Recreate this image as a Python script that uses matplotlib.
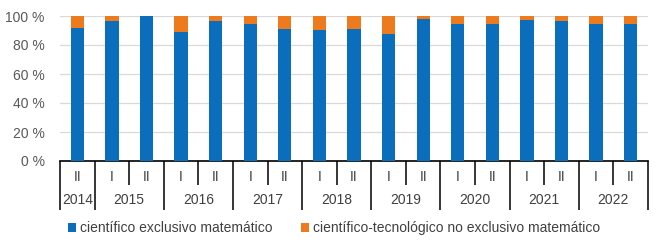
import matplotlib
matplotlib.use("Agg")
import matplotlib.pyplot as plt

# Data
years = ["2014", "2015", "2016", "2017", "2018", "2019", "2020", "2021", "2022"]
semesters = ["II", "I", "II", "I", "II", "I", "II", "I", "II",
             "I", "II", "I", "II", "I", "II", "I", "II"]
exclusivo = [91.5, 96.5, 100, 88.7, 96.5, 94.3, 91.0, 90.5, 90.8,
             87.4, 97.7, 94.3, 94.3, 97.2, 96.5, 94.5, 94.3]
no_exclusivo = [100 - v for v in exclusivo]
labels = ["científico exclusivo matemático",
          "científico-tecnológico no exclusivo matemático"]

plt.rcParams["font.family"] = ["Liberation Sans", "DejaVu Sans"]

fig = plt.figure(figsize=(6.57, 2.42), dpi=100)
ax = fig.add_axes([60 / 657, 81 / 242, 588 / 657, 145 / 242])

x = list(range(len(exclusivo)))
ax.bar(x, exclusivo, width=0.385, color="#0A6EBD", label=labels[0], zorder=3)
ax.bar(x, no_exclusivo, bottom=exclusivo, width=0.385, color="#EE7A1E",
       label=labels[1], zorder=3)

ax.set_xlim(-0.5, len(x) - 0.5)
ax.set_ylim(0, 100)
ax.set_yticks(range(0, 101, 20))
ax.set_yticklabels([f"{v} %" for v in range(0, 101, 20)])
ax.tick_params(axis="y", length=0, labelsize=10, colors="#595959", pad=11)
ax.grid(axis="y", color="#D9D9D9", linewidth=0.9, zorder=0)

for s in ["top", "right", "left"]:
    ax.spines[s].set_visible(False)
ax.spines["bottom"].set_color("black")
ax.spines["bottom"].set_linewidth(1.2)

# multi-level category axis: long ticks between years, short between semesters
year_bounds = [-0.5, 0.5] + [0.5 + 2 * k for k in range(1, 9)]
half_bounds = [1.5 + 2 * k for k in range(8)]
ax.set_xticks(year_bounds)
ax.set_xticks(half_bounds, minor=True)
ax.set_xticklabels([])
ax.tick_params(axis="x", which="major", length=35, width=1.1, color="black")
ax.tick_params(axis="x", which="minor", length=17.5, width=1.1, color="black")

tr = ax.get_xaxis_transform()
for xi, s in zip(x, semesters):
    ax.text(xi, -0.11, s, transform=tr, ha="center", va="center",
            fontsize=10, color="#404040")
centers = [0] + [1.5 + 2 * k for k in range(8)]
for c, yr in zip(centers, years):
    ax.text(c, -0.27, yr, transform=tr, ha="center", va="center",
            fontsize=10, color="#404040")

fig.legend(loc="center left", bbox_to_anchor=(68 / 657, 14 / 242), ncol=2,
           frameon=False, fontsize=10, handlelength=0.6, handleheight=0.6,
           handletextpad=0.3, columnspacing=2.0, labelcolor="#404040",
           borderaxespad=0, borderpad=0)

fig.savefig("out.png", dpi=100)
